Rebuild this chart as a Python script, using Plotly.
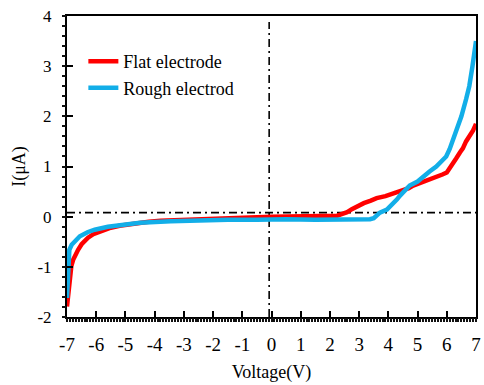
import plotly.graph_objects as go

# Flat electrode (red)
flat_v = [-7.0, -6.97, -6.93, -6.9, -6.85, -6.79, -6.7, -6.62, -6.5, -6.4, -6.28, -6.1, -5.9, -5.71,
          -5.5, -5.2, -4.9, -4.6, -4.2, -3.8, -3.4, -3.0, -2.5, -2.0, -1.5, -1.0, -0.5, 0.0, 0.5, 1.0,
          1.5, 2.0, 2.25, 2.4, 2.59, 2.75, 2.93, 3.16, 3.4, 3.6, 3.9, 4.1, 4.29, 4.5, 4.7, 4.85, 5.1,
          5.4, 5.64, 5.85, 6.0, 6.09, 6.2, 6.32, 6.45, 6.55, 6.66, 6.8, 6.9, 7.0]
flat_i = [-1.79, -1.6, -1.3, -1.12, -0.98, -0.86, -0.74, -0.66, -0.55, -0.48, -0.42, -0.35, -0.3, -0.26,
          -0.22, -0.18, -0.15, -0.12, -0.1, -0.08, -0.07, -0.05, -0.04, -0.03, -0.02, -0.02, -0.01, 0.0, 0.0, 0.0,
          0.0, 0.01, 0.02, 0.05, 0.09, 0.15, 0.21, 0.27, 0.32, 0.37, 0.41, 0.45, 0.48, 0.52, 0.57, 0.62, 0.67,
          0.73, 0.79, 0.84, 0.88, 0.95, 1.05, 1.16, 1.28, 1.36, 1.5, 1.62, 1.72, 1.85]

# Rough electrode (blue)
rough_v = [-7.0, -6.98, -6.96, -6.92, -6.84, -6.7, -6.56, -6.3, -6.05, -5.6, -5.15, -4.5, -3.45, -2.5,
           -1.5, -0.5, 0.0, 0.5, 1.5, 2.5, 3.0, 3.37, 3.5, 3.6, 3.71, 3.95, 4.1, 4.29, 4.4, 4.63, 4.73,
           5.0, 5.19, 5.41, 5.64, 5.75, 5.92, 5.98, 6.1, 6.32, 6.5, 6.66, 6.77, 6.88, 6.95, 7.0]
rough_i = [-1.62, -1.2, -0.79, -0.66, -0.56, -0.46, -0.39, -0.31, -0.26, -0.2, -0.16, -0.12, -0.09, -0.07,
           -0.06, -0.06, -0.05, -0.05, -0.06, -0.06, -0.06, -0.05, -0.03, 0.01, 0.08, 0.14, 0.22, 0.34, 0.42, 0.54, 0.62,
           0.7, 0.8, 0.9, 1.0, 1.07, 1.15, 1.2, 1.35, 1.68, 2.0, 2.34, 2.6, 3.0, 3.25, 3.5]

series_names = ["Flat electrode", "Rough electrod"]
x_ticks = [-7, -6, -5, -4, -3, -2, -1, 0, 1, 2, 3, 4, 5, 6, 7]
y_ticks = [-2, -1, 0, 1, 2, 3, 4]
x_range = [-7, 7]
y_range = [-2, 4]
x_minor_step = 0.1
y_minor_step = 0.2
ref_v = -0.08   # vertical reference line
ref_i = 0.08    # horizontal reference line

FONT = "Times New Roman, Liberation Serif, serif"

fig = go.Figure()
fig.add_trace(go.Scatter(x=flat_v, y=flat_i, mode="lines", name=series_names[0],
                         line=dict(color="#ff0000", width=4.5)))
# blue series drawn on the overlay axes (same ranges), which also carry the minor ticks
fig.add_trace(go.Scatter(x=rough_v, y=rough_i, mode="lines", name=series_names[1],
                         xaxis="x2", yaxis="y2",
                         line=dict(color="#12aee8", width=4.5)))

fig.add_shape(type="line", xref="paper", yref="y", x0=0, x1=1, y0=ref_i, y1=ref_i,
              line=dict(color="black", width=1.6, dash="8px,4px,2px,4px"), layer="below")
fig.add_shape(type="line", xref="x", yref="paper", x0=ref_v, x1=ref_v, y0=0, y1=0.98,
              line=dict(color="black", width=1.6, dash="8px,4px,2px,4px"), layer="below")

fig.update_layout(
    width=484, height=385,
    margin=dict(l=67, r=3, t=16, b=68),
    paper_bgcolor="white", plot_bgcolor="white",
    font=dict(family=FONT, color="black"),
    showlegend=True,
    legend=dict(x=0.04, y=0.91, xanchor="left", yanchor="top",
                bgcolor="rgba(0,0,0,0)", font=dict(family=FONT, size=18, color="black"),
                itemwidth=30, tracegroupgap=0),
    xaxis=dict(range=x_range, tickmode="array", tickvals=x_ticks,
               ticktext=[str(v) for v in x_ticks],
               showgrid=False, zeroline=False, showline=True, linecolor="black", linewidth=2,
               mirror=True, ticks="inside", ticklen=6, tickwidth=2, tickcolor="black",
               ticklabelstandoff=9,
               tickfont=dict(family=FONT, size=19),
               title=dict(text="Voltage(V)", font=dict(family=FONT, size=18), standoff=12)),
    yaxis=dict(range=y_range, tickmode="array", tickvals=y_ticks,
               ticktext=[str(v) for v in y_ticks],
               showgrid=False, zeroline=False, showline=True, linecolor="black", linewidth=2,
               mirror=True, ticks="inside", ticklen=6, tickwidth=2, tickcolor="black",
               ticklabelstandoff=10,
               tickfont=dict(family=FONT, size=17),
               title=dict(text="I(μA)", font=dict(family=FONT, size=18), standoff=7)),
    xaxis2=dict(overlaying="x", anchor="y2", side="bottom", range=x_range,
                tickmode="linear", tick0=x_range[0], dtick=x_minor_step,
                ticks="outside", ticklen=4, tickwidth=1.5, tickcolor="#111111",
                showticklabels=False, showgrid=False, zeroline=False, showline=False),
    yaxis2=dict(overlaying="y", anchor="x2", side="left", range=y_range,
                tickmode="linear", tick0=y_range[0], dtick=y_minor_step,
                ticks="outside", ticklen=4, tickwidth=2, tickcolor="#111111",
                showticklabels=False, showgrid=False, zeroline=False, showline=False),
)

fig.write_html("out.html")
